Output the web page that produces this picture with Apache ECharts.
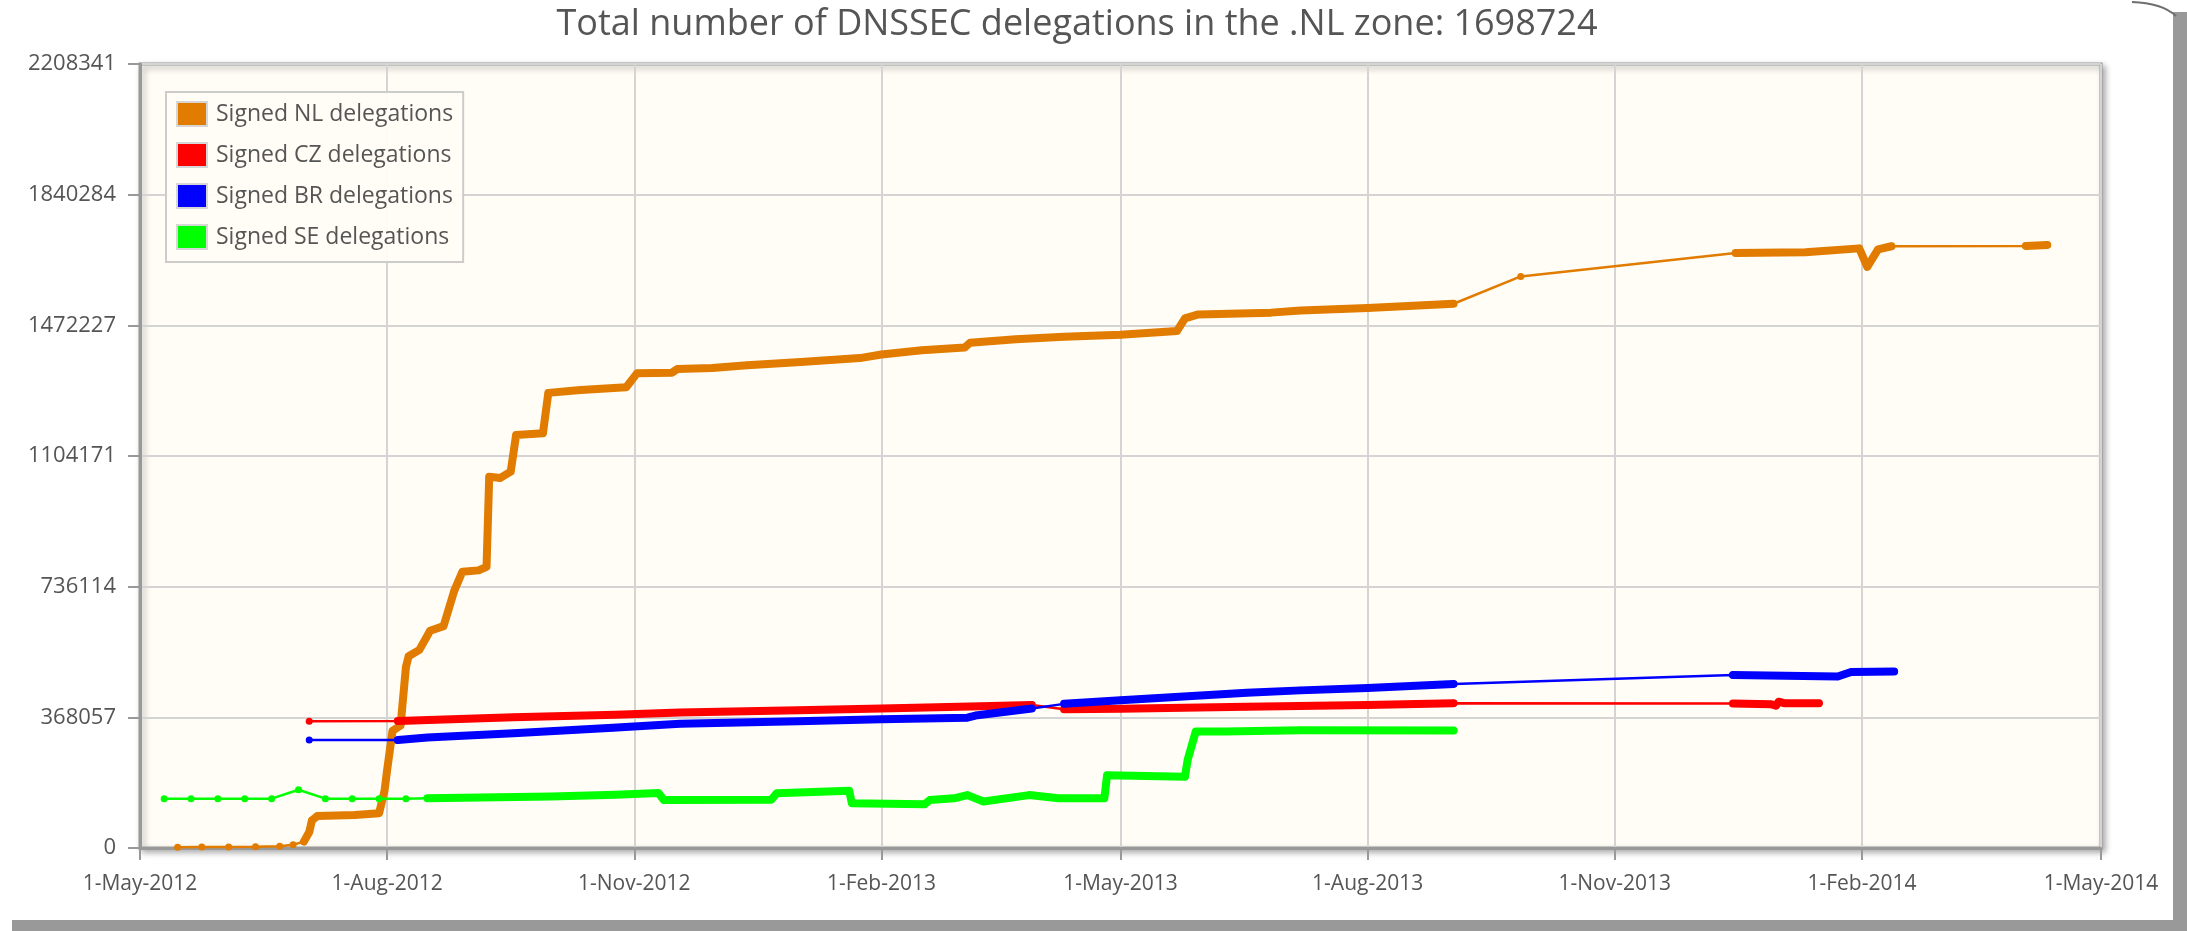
<!DOCTYPE html>
<html>
<head>
<meta charset="utf-8">
<script src="https://cdn.jsdelivr.net/npm/echarts@6/dist/echarts.min.js"></script>
<style>
html,body{margin:0;padding:0;background:#fff;}
#chart{width:2187px;height:931px;}
</style>
</head>
<body>
<div id="chart"></div>
<script>
const titleText = 'Total number of DNSSEC delegations in the .NL zone: 1698724';
const seriesNames = ['Signed NL delegations', 'Signed CZ delegations', 'Signed BR delegations', 'Signed SE delegations'];
const seriesColors = ['#e17c00', '#ff0000', '#0000ff', '#00ff00'];
const yMax = 2208341;
const xMin = '2012-05-01';
const xMax = '2014-05-01';
const xTickDates = ['2012-05-01','2012-08-01','2012-11-01','2013-02-01','2013-05-01','2013-08-01','2013-11-01','2014-02-01','2014-05-01'];
const monthNames = ['Jan','Feb','Mar','Apr','May','Jun','Jul','Aug','Sep','Oct','Nov','Dec'];

const nlData = [
  ['2012-05-15', 2000], ['2012-05-24', 2500], ['2012-06-03', 3000], ['2012-06-13', 3500],
  ['2012-06-22', 5000], ['2012-06-27', 9000], ['2012-07-01', 18000], ['2012-07-03', 45000],
  ['2012-07-04', 78000], ['2012-07-06', 90000], ['2012-07-20', 93000], ['2012-07-29', 98000],
  ['2012-07-31', 160000], ['2012-08-01', 220000], ['2012-08-03', 330000], ['2012-08-06', 345000],
  ['2012-08-08', 510000], ['2012-08-09', 540000], ['2012-08-13', 558000], ['2012-08-17', 612000],
  ['2012-08-22', 625000], ['2012-08-26', 725000], ['2012-08-29', 778000], ['2012-09-04', 782000],
  ['2012-09-07', 792000], ['2012-09-08', 1046000], ['2012-09-12', 1042000], ['2012-09-16', 1060000],
  ['2012-09-18', 1163000], ['2012-09-28', 1168000], ['2012-09-30', 1282000], ['2012-10-12', 1290000],
  ['2012-10-29', 1298000], ['2012-11-02', 1337000], ['2012-11-15', 1339000], ['2012-11-17', 1349000],
  ['2012-11-30', 1352000], ['2012-12-13', 1360000], ['2013-01-02', 1369000], ['2013-01-24', 1380000],
  ['2013-02-01', 1390000], ['2013-02-16', 1402000], ['2013-03-04', 1410000], ['2013-03-06', 1423000],
  ['2013-03-23', 1433000], ['2013-04-10', 1440000], ['2013-05-01', 1446000], ['2013-05-22', 1456000],
  ['2013-05-25', 1492000], ['2013-05-30', 1503000], ['2013-06-26', 1508000], ['2013-07-07', 1514000],
  ['2013-08-01', 1521000], ['2013-09-02', 1533000], ['2013-09-27', 1610000], ['2013-12-16', 1676000],
  ['2014-01-11', 1678000], ['2014-01-31', 1689000], ['2014-02-03', 1637000], ['2014-02-07', 1686000],
  ['2014-02-12', 1695000], ['2014-04-03', 1696000], ['2014-04-11', 1698724]
];
const czData = [
  ['2012-07-03', 357000], ['2012-08-05', 358000], ['2012-09-17', 368000], ['2012-10-25', 375000],
  ['2012-11-18', 382000], ['2013-01-01', 388000], ['2013-02-01', 393000], ['2013-03-10', 399000],
  ['2013-03-29', 403000], ['2013-04-10', 391000], ['2013-05-01', 392000], ['2013-06-17', 398000],
  ['2013-08-01', 403000], ['2013-09-02', 408000], ['2013-12-15', 407000], ['2013-12-29', 405000],
  ['2013-12-31', 401000], ['2014-01-01', 412000], ['2014-01-03', 408000], ['2014-01-16', 408000]
];
const brData = [
  ['2012-07-03', 304000], ['2012-08-05', 304000], ['2012-08-16', 311000], ['2012-09-17', 323000],
  ['2012-10-24', 339000], ['2012-11-18', 350000], ['2013-01-01', 357000], ['2013-02-01', 363000],
  ['2013-03-05', 367000], ['2013-03-08', 373000], ['2013-03-29', 393000], ['2013-04-10', 406000],
  ['2013-05-01', 416000], ['2013-06-17', 437000], ['2013-07-07', 444000], ['2013-08-01', 451000],
  ['2013-09-02', 462000], ['2013-12-15', 487000], ['2014-01-23', 483000], ['2014-01-28', 496000],
  ['2014-02-13', 497000]
];
const seData = [
  ['2012-05-10', 139000], ['2012-05-20', 139000], ['2012-05-30', 139000], ['2012-06-09', 139000],
  ['2012-06-19', 139000], ['2012-06-29', 164000], ['2012-07-09', 139000], ['2012-07-19', 139000],
  ['2012-07-29', 139000], ['2012-08-08', 139000], ['2012-08-16', 140000], ['2012-10-01', 145000],
  ['2012-10-25', 150000], ['2012-11-10', 155000], ['2012-11-12', 135000], ['2012-12-22', 136000],
  ['2012-12-24', 154000], ['2013-01-20', 161000], ['2013-01-21', 126000], ['2013-02-17', 123000],
  ['2013-02-19', 135000], ['2013-02-28', 140000], ['2013-03-05', 149000], ['2013-03-11', 131000],
  ['2013-03-28', 149000], ['2013-04-02', 145000], ['2013-04-08', 140000], ['2013-04-25', 140000],
  ['2013-04-26', 205000], ['2013-05-25', 201000], ['2013-05-26', 248000], ['2013-05-29', 328000],
  ['2013-06-09', 328000], ['2013-07-07', 332000], ['2013-09-02', 331000]
];
// periods with daily (dense) samples, drawn as a thick band
const nlDense = [['2012-07-01','2013-09-02'], ['2013-12-16','2014-02-12'], ['2014-04-03','2014-04-11']];
const czDense = [['2012-08-05','2013-03-29'], ['2013-04-10','2013-09-02'], ['2013-12-15','2014-01-16']];
const brDense = [['2012-08-05','2013-03-29'], ['2013-04-10','2013-09-02'], ['2013-12-15','2014-02-13']];
const seDense = [['2012-08-16','2013-09-02']];

function parseDay(s) { const p = s.split('-'); return new Date(+p[0], +p[1] - 1, +p[2]).getTime(); }
function toPts(data) { return data.map(d => [parseDay(d[0]), d[1]]); }
function densePts(data, ranges) {
  const out = [];
  ranges.forEach((r, i) => {
    if (i > 0) out.push([parseDay(r[0]) - 1, '-']);
    data.forEach(d => { if (d[0] >= r[0] && d[0] <= r[1]) out.push([parseDay(d[0]), d[1]]); });
  });
  return out;
}

const allData = [nlData, czData, brData, seData];
const allDense = [nlDense, czDense, brDense, seDense];
const series = [];
seriesNames.forEach((name, i) => {
  series.push({
    name: name, type: 'line', data: toPts(allData[i]),
    color: seriesColors[i], symbol: 'circle', symbolSize: 7, showAllSymbol: true,
    lineStyle: { width: 2.5, color: seriesColors[i] }, itemStyle: { color: seriesColors[i] },
    z: 2 + i * 2, silent: true
  });
  series.push({
    name: name, type: 'line', data: densePts(allData[i], allDense[i]),
    color: seriesColors[i], symbol: 'none', connectNulls: false,
    lineStyle: { width: 8, color: seriesColors[i], cap: 'round', join: 'round' },
    z: 3 + i * 2, silent: true
  });
});

const xTickValues = xTickDates.map(parseDay);
const chart = echarts.init(document.getElementById('chart'), null, { renderer: 'canvas' });
const fontFam = '"Open Sans", sans-serif';
chart.setOption({
  animation: false,
  backgroundColor: '#ffffff',
  textStyle: { fontFamily: fontFam },
  graphic: [
    { type: 'rect', z: -100, shape: { x: 12, y: 12, width: 2175, height: 919 }, style: { fill: '#999999' }, silent: true },
    { type: 'rect', z: -99, shape: { x: 0, y: 0, width: 2173, height: 920 }, style: { fill: '#ffffff' }, silent: true },
    { type: 'bezierCurve', z: -98, shape: { x1: 2132, y1: 2, x2: 2176, y2: 16, cpx1: 2162, cpy1: 3 }, style: { stroke: '#6f6f6f', lineWidth: 2, fill: null }, silent: true }
  ],
  title: {
    text: titleText, left: 1072, top: 2, textAlign: 'center',
    textStyle: { fontFamily: fontFam, fontSize: 36, fontWeight: 'normal', color: '#555555' }
  },
  legend: {
    data: seriesNames, orient: 'vertical', left: 166, top: 92,
    icon: 'rect', itemWidth: 30, itemHeight: 24, itemGap: 15,
    padding: [9, 10, 12, 10],
    backgroundColor: 'rgba(255,253,246,0.95)', borderColor: '#cccccc', borderWidth: 2,
    itemStyle: { borderColor: '#d6d6d6', borderWidth: 2 },
    textStyle: { fontFamily: fontFam, fontSize: 23, color: '#555555', padding: [0, 0, 0, 4] },
    selectedMode: false
  },
  grid: {
    left: 140, right: 86, top: 64, bottom: 83, show: true,
    backgroundColor: '#fffdf6', borderColor: '#999999', borderWidth: 3,
    shadowColor: 'rgba(0,0,0,0.3)', shadowBlur: 6, shadowOffsetX: 3, shadowOffsetY: 3
  },
  xAxis: {
    type: 'value', min: parseDay(xMin), max: parseDay(xMax),
    axisLine: { show: true, lineStyle: { color: '#999999', width: 3 } },
    axisTick: { show: true, length: 12, lineStyle: { color: '#999999', width: 2 }, customValues: xTickValues },
    axisLabel: {
      customValues: xTickValues, margin: 26, fontSize: 21, color: '#555555', fontFamily: fontFam,
      formatter: v => { const d = new Date(v); return d.getDate() + '-' + monthNames[d.getMonth()] + '-' + d.getFullYear(); }
    },
    splitLine: { show: true, lineStyle: { color: '#d4d4d4', width: 2 } }
  },
  yAxis: {
    type: 'value', min: 0, max: yMax, interval: yMax / 6,
    axisLine: { show: true, lineStyle: { color: '#999999', width: 3 } },
    axisTick: { show: true, length: 12, lineStyle: { color: '#999999', width: 2 } },
    axisLabel: { margin: 24, fontSize: 22, color: '#555555', fontFamily: fontFam, formatter: v => String(Math.round(v)) },
    splitLine: { show: true, lineStyle: { color: '#d4d4d4', width: 2 } }
  },
  series: series
});
</script>
</body>
</html>
